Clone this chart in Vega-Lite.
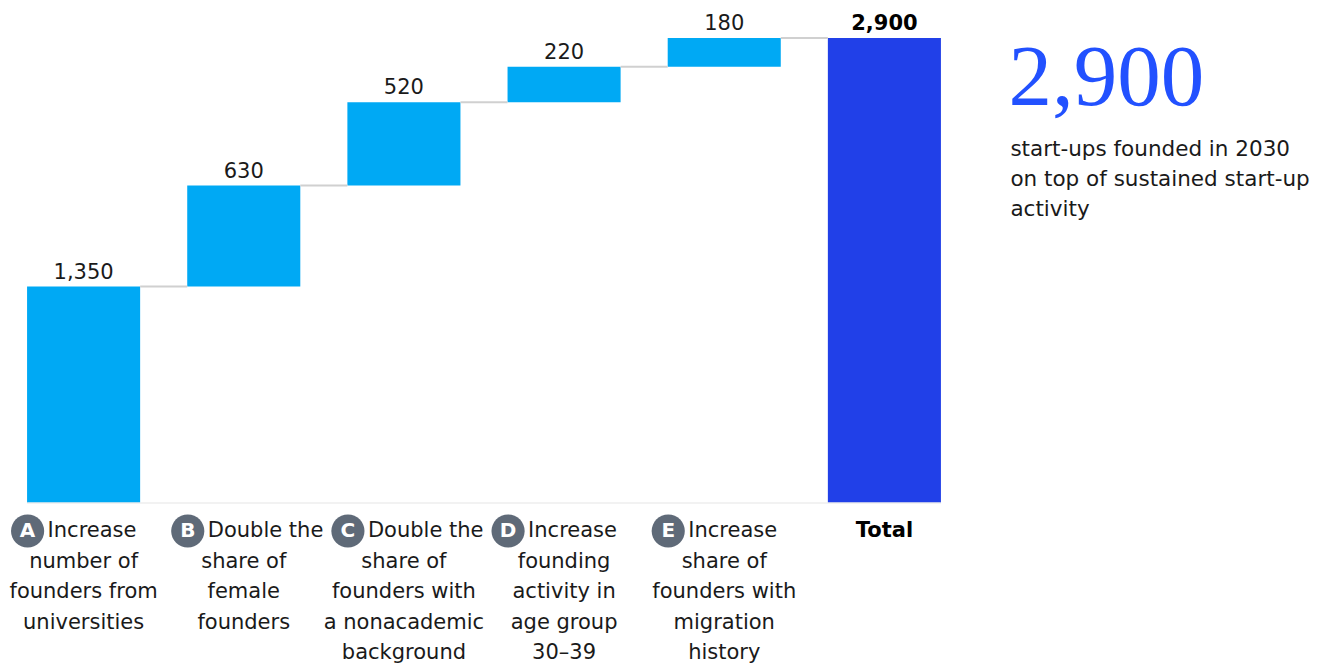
{
  "$schema": "https://vega.github.io/schema/vega-lite/v6.json",
  "autosize": {"type": "none"},
  "width": 968,
  "height": 465,
  "padding": {"left": 0, "top": 38, "right": 354, "bottom": 162},
  "background": "white",
  "config": {"view": {"stroke": null}, "text": {"font": "DejaVu Sans", "fontSize": 21, "color": "#1a1a1a"}},
  "datasets": {
    "steps": [
      {"key": "A", "kind": "step", "start": 0, "end": 1350, "value": 1350, "first": "Increase", "rest": "number of\nfounders from\nuniversities"},
      {"key": "B", "kind": "step", "start": 1350, "end": 1980, "value": 630, "first": "Double the", "rest": "share of\nfemale\nfounders"},
      {"key": "C", "kind": "step", "start": 1980, "end": 2500, "value": 520, "first": "Double the", "rest": "share of\nfounders with\na nonacademic\nbackground"},
      {"key": "D", "kind": "step", "start": 2500, "end": 2720, "value": 220, "first": "Increase", "rest": "founding\nactivity in\nage group\n30–39"},
      {"key": "E", "kind": "step", "start": 2720, "end": 2900, "value": 180, "first": "Increase", "rest": "share of\nfounders with\nmigration\nhistory"},
      {"key": "Total", "kind": "total", "start": 0, "end": 2900, "value": 2900, "first": "Total", "rest": ""}
    ],
    "links": [
      {"from": "A", "to": "B", "level": 1350},
      {"from": "B", "to": "C", "level": 1980},
      {"from": "C", "to": "D", "level": 2500},
      {"from": "D", "to": "E", "level": 2720},
      {"from": "E", "to": "Total", "level": 2900}
    ],
    "base": [{"from": "A", "to": "Total", "level": 0}],
    "note": [
      {"key": "Total", "big": "2,900", "desc": "start-ups founded in 2030\non top of sustained start-up\nactivity"}
    ]
  },
  "layer": [
    {
      "data": {"name": "steps"},
      "mark": {"type": "bar"},
      "encoding": {
        "x": {
          "field": "key", "type": "nominal", "sort": null,
          "scale": {"paddingInner": 0.294, "paddingOuter": 0.169},
          "axis": {"title": null, "labels": false, "ticks": false, "domain": false}
        },
        "y": {"field": "start", "type": "quantitative", "scale": {"domain": [0, 2900], "nice": false}, "axis": null},
        "y2": {"field": "end"},
        "color": {"field": "kind", "type": "nominal", "scale": {"domain": ["step", "total"], "range": ["#00A9F4", "#2140E8"]}, "legend": null}
      }
    },
    {
      "data": {"name": "base"},
      "mark": {"type": "rule", "color": "#eeeeee", "strokeWidth": 1.5},
      "encoding": {
        "x": {"field": "from", "type": "nominal", "bandPosition": 0},
        "x2": {"field": "to", "bandPosition": 1},
        "y": {"field": "level", "type": "quantitative"}
      }
    },
    {
      "data": {"name": "links"},
      "mark": {"type": "rule", "color": "#d0d0d0", "strokeWidth": 2},
      "encoding": {
        "x": {"field": "from", "type": "nominal", "bandPosition": 1},
        "x2": {"field": "to", "bandPosition": 0},
        "y": {"field": "level", "type": "quantitative"}
      }
    },
    {
      "data": {"name": "steps"},
      "transform": [{"filter": "datum.kind == 'step'"}],
      "mark": {"type": "text", "baseline": "alphabetic", "dy": -8},
      "encoding": {
        "x": {"field": "key", "type": "nominal"},
        "y": {"field": "end", "type": "quantitative"},
        "text": {"field": "value", "type": "quantitative", "format": ","}
      }
    },
    {
      "data": {"name": "steps"},
      "transform": [{"filter": "datum.kind == 'total'"}],
      "mark": {"type": "text", "baseline": "alphabetic", "dy": -8, "fontWeight": "bold", "color": "#000000"},
      "encoding": {
        "x": {"field": "key", "type": "nominal"},
        "y": {"field": "end", "type": "quantitative"},
        "text": {"field": "value", "type": "quantitative", "format": ","}
      }
    },
    {
      "data": {"name": "steps"},
      "transform": [{"filter": "datum.kind == 'step'"}],
      "mark": {"type": "point", "shape": "M -2.377 1.69 A 1 1 0 1 1 -4.377 1.69 A 1 1 0 1 1 -2.377 1.69 Z", "filled": true, "size": 1100, "color": "#5F6A78", "opacity": 1},
      "encoding": {
        "x": {"field": "key", "type": "nominal"},
        "y": {"datum": 0, "type": "quantitative"}
      }
    },
    {
      "data": {"name": "steps"},
      "transform": [{"filter": "datum.kind == 'step'"}],
      "mark": {"type": "text", "baseline": "middle", "align": "center", "dx": -56, "dy": 28, "fontWeight": "bold", "fontSize": 20, "color": "white"},
      "encoding": {
        "x": {"field": "key", "type": "nominal"},
        "y": {"datum": 0, "type": "quantitative"},
        "text": {"field": "key"}
      }
    },
    {
      "data": {"name": "steps"},
      "transform": [{"filter": "datum.kind == 'step'"}],
      "mark": {"type": "text", "baseline": "middle", "align": "left", "dx": -36, "dy": 28},
      "encoding": {
        "x": {"field": "key", "type": "nominal"},
        "y": {"datum": 0, "type": "quantitative"},
        "text": {"field": "first"}
      }
    },
    {
      "data": {"name": "steps"},
      "transform": [{"filter": "datum.kind == 'total'"}],
      "mark": {"type": "text", "baseline": "middle", "align": "center", "dy": 28, "fontWeight": "bold", "color": "#000000"},
      "encoding": {
        "x": {"field": "key", "type": "nominal"},
        "y": {"datum": 0, "type": "quantitative"},
        "text": {"field": "first"}
      }
    },
    {
      "data": {"name": "steps"},
      "transform": [{"filter": "datum.kind == 'step'"}],
      "mark": {"type": "text", "baseline": "alphabetic", "align": "center", "dy": 65, "lineBreak": "\n", "lineHeight": 30.3},
      "encoding": {
        "x": {"field": "key", "type": "nominal"},
        "y": {"datum": 0, "type": "quantitative"},
        "text": {"field": "rest"}
      }
    },
    {
      "data": {"name": "note"},
      "mark": {"type": "text", "baseline": "alphabetic", "align": "left", "dx": 124, "dy": 67, "font": "Liberation Serif", "fontSize": 87, "color": "#2251FF"},
      "encoding": {
        "x": {"field": "key", "type": "nominal"},
        "y": {"datum": 2900, "type": "quantitative"},
        "text": {"field": "big"}
      }
    },
    {
      "data": {"name": "note"},
      "mark": {"type": "text", "baseline": "alphabetic", "align": "left", "dx": 126, "dy": 118, "lineBreak": "\n", "lineHeight": 30, "fontSize": 21.5},
      "encoding": {
        "x": {"field": "key", "type": "nominal"},
        "y": {"datum": 2900, "type": "quantitative"},
        "text": {"field": "desc"}
      }
    }
  ]
}
